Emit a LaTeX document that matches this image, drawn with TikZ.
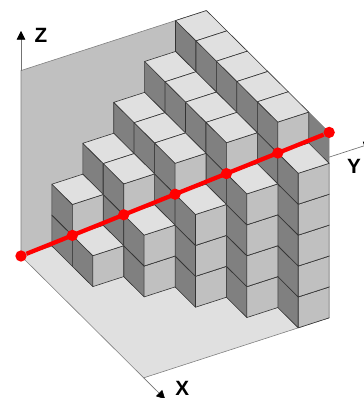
\documentclass[tikz,border=0pt]{standalone}
\usepackage{fontspec}
\setmainfont{Liberation Sans}
\usetikzlibrary{arrows.meta}
\definecolor{topgray}{RGB}{224,224,224}
\definecolor{frontgray}{RGB}{192,192,192}
\definecolor{sidegray}{RGB}{128,128,128}
\definecolor{linered}{RGB}{255,0,0}
\tikzset{
  face/.style={draw=black!80,line width=0.45pt,line join=round},
  axisline/.style={draw=black!55,line width=0.5pt},
  axislabel/.style={font=\bfseries\fontsize{15.5}{16}\selectfont,inner sep=0pt},
  reddot/.style={circle,fill=linered,inner sep=0pt,minimum size=8.5pt}
}
% one unit cube, corner at (#1,#2,#3)
\newcommand{\unitcube}[3]{
  \pgfmathsetmacro{\ia}{#1+1}
  \pgfmathsetmacro{\ja}{#2+1}
  \pgfmathsetmacro{\ka}{#3+1}
  \draw[face,fill=sidegray] (#1,#2,#3)--(\ia,#2,#3)--(\ia,#2,\ka)--(#1,#2,\ka)--cycle;
  \draw[face,fill=frontgray] (\ia,#2,#3)--(\ia,\ja,#3)--(\ia,\ja,\ka)--(\ia,#2,\ka)--cycle;
  \draw[face,fill=topgray] (#1,#2,\ka)--(\ia,#2,\ka)--(\ia,\ja,\ka)--(#1,\ja,\ka)--cycle;
}
\begin{document}
\begin{tikzpicture}[x={(15.34pt,-15.23pt)},y={(23.18pt,7.5pt)},z={(0pt,23.18pt)}]
  \useasboundingbox (-15.75pt,-106.5pt) rectangle (256.5pt,192pt);
  % wall and floor
  \draw[face,draw=black!50,fill=topgray] (0,0,0)--(6,0,0)--(6,6,0)--(0,6,0)--cycle;
  \draw[face,draw=black!50,fill=frontgray] (0,0,0)--(0,0,6)--(0,6,6)--(0,6,0)--cycle;
  % axes
  \coordinate (zfoot) at (0,0,6);
  \coordinate (ztip) at (0,0,7.28);
  \coordinate (xfoot) at (6,0,0);
  \coordinate (xtip) at (7.05,0,0);
  \coordinate (yfoot) at (6,6,5.2);
  \coordinate (ytip) at (6,7.4,5.2);
  \draw[axisline,-{Triangle[length=6.5pt,width=6.5pt,color=black]}] (zfoot)--(ztip);
  \draw[axisline,-{Triangle[length=6.5pt,width=6.5pt,color=black]}] (xfoot)--(xtip);
  \draw[axisline,-{Triangle[length=6.5pt,width=6.5pt,color=black]}] (yfoot)--(ytip);
  \node[axislabel] (zlabel) at (15pt,165.75pt) {Z};
  \node[axislabel] (ylabel) at (249.75pt,67.5pt) {Y};
  \node[axislabel] (xlabel) at (121pt,-99pt) {X};
  % stepped stack of cubes, back to front
  \fill[sidegray] (5,6,5)--(6,6,5)--(6,6,6)--(5,6,6)--cycle;
  \draw[face,draw=black!50] (5,6,6)--(6,6,6)--(6,6,5);
  \foreach \row in {5,4,3,2,1}{
    \foreach \col in {0,...,\row}{
      \pgfmathtruncatemacro{\high}{\col<\row ? \row : \row-1}
      \foreach \lev in {0,...,\high}{
        \unitcube{\col}{\row}{\lev}
      }
    }
  }
  % red line through the stack
  \foreach \n in {0,...,6}{
    \node[reddot] (p\n) at (\n,\n,\n) {};
  }
  \draw[linered,line width=3.2pt] (p0)--(p6);
\end{tikzpicture}
\end{document}
